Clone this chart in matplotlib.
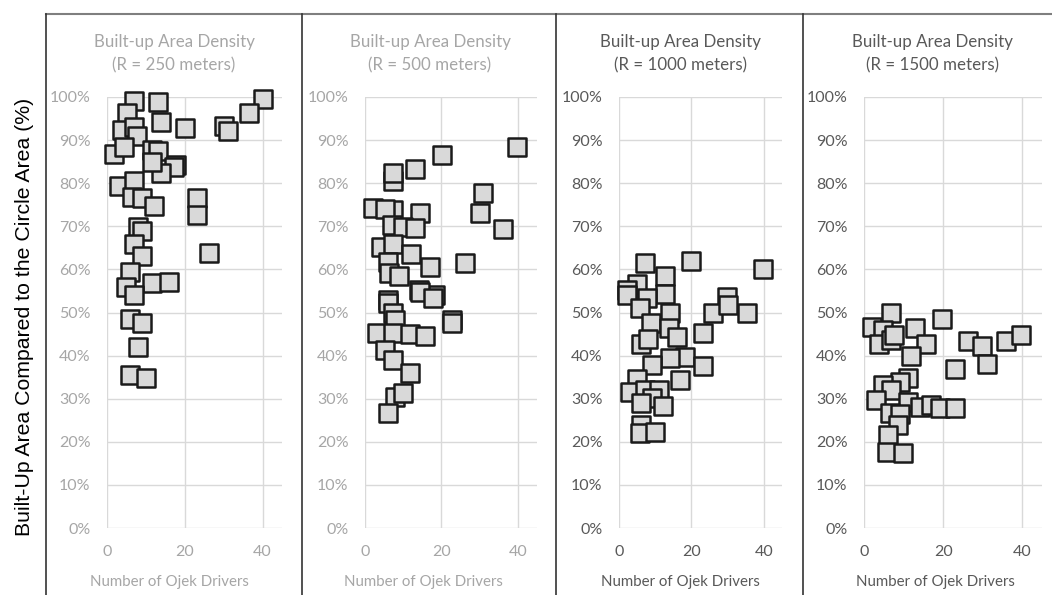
import matplotlib
matplotlib.use("Agg")
import matplotlib.pyplot as plt
from matplotlib.lines import Line2D
from matplotlib.ticker import PercentFormatter

# ojek drivers (x) vs built-up share in % (y), one pair of lists per radius
r250_x = [7, 13, 40, 5.2, 36.5, 13.8, 20, 30.2, 31.2, 3.9, 7, 7.8, 1.7, 4.3,
          11.6, 13.2, 17.7, 17.3, 13.8, 11.6, 3, 6.9, 6.3, 9, 12, 23.1, 23.1,
          8, 9, 6.9, 9, 26.1, 5.8, 4.9, 11.6, 15.9, 7, 6, 9, 8, 6, 10]
r250_y = [99, 98.8, 99.5, 96.4, 96.3, 94.3, 92.9, 93.3, 92, 92.4, 93, 90.9,
          86.7, 88.5, 87.8, 87.4, 84.3, 83.8, 82.3, 85, 79.4, 80.4, 76.9, 76.5,
          74.7, 76.5, 72.6, 69.8, 69, 66, 63.1, 63.9, 59.5, 56, 56.9, 57.1, 54,
          48.5, 47.5, 42, 35.5, 34.8]

r500_x = [39.8, 20.1, 13.1, 7.3, 7.3, 30.9, 30.2, 36.1, 2.2, 7.4, 5.2, 14.3,
          7, 10, 13.1, 4.1, 7.3, 12, 17.1, 26.1, 6.1, 6.3, 9, 14, 18.4, 6.1,
          14.4, 17.9, 6.1, 7.3, 7.9, 22.7, 22.7, 3.1, 7.3, 11.8, 15.7, 5.2,
          7.3, 11.8, 7.9, 9.9, 6.1]
r500_y = [88.5, 86.6, 83.3, 80.4, 82.3, 77.8, 73.2, 69.3, 74.2, 73.8, 74,
          73.2, 70.3, 69.9, 69.5, 65.1, 65.9, 63.6, 60.6, 61.6, 61.8, 59.2,
          58.4, 55.2, 54, 52.9, 54.8, 53.3, 52.1, 49.8, 48.3, 48.3, 47.5, 45.2,
          45.2, 44.9, 44.5, 41.3, 39, 36, 30.5, 31.3, 26.6]

r1000_x = [7.1, 20, 39.7, 12.8, 5, 2.3, 12.8, 29.8, 2.3, 7.8, 5.8, 26, 30.2,
           35.2, 14.2, 8.9, 13.8, 23.1, 6, 8, 15.9, 18.3, 14, 9.2, 23.1, 16.8,
           5, 3, 7.1, 11, 9.2, 6, 12.2, 6, 5.8, 9.9]
r1000_y = [61.6, 62, 60, 58.4, 56.7, 55.2, 54.4, 53.6, 54, 53.3, 51, 50,
           51.7, 49.8, 49.8, 47.6, 46.3, 45.3, 42.8, 43.8, 44.2, 39.7, 39.4,
           37.8, 37.6, 34.3, 34.5, 31.6, 32, 32, 30.1, 28.9, 28.3, 23.9, 22.1,
           22.3]

r1500_x = [6.8, 19.6, 1.9, 4.8, 12.8, 3.9, 6.9, 15.8, 7.6, 11.8, 26.2, 29.9,
           36, 39.8, 31, 23.1, 11.1, 9, 4.8, 6.9, 3.1, 11.1, 14.1, 17, 19.1,
           22.9, 6.5, 9, 8.6, 6.1, 5.9, 9.9]
r1500_y = [49.8, 48.6, 46.6, 45.9, 46.3, 42.8, 43.6, 42.8, 44.8, 39.9, 43.5,
           42.2, 43.5, 44.8, 38, 37, 34.7, 33.9, 33.2, 32, 29.7, 29.3, 28.1,
           28.5, 27.8, 27.8, 26.6, 26.4, 23.9, 21.6, 17.7, 17.3]

radii = ["250", "500", "1000", "1500"]
series = [(r250_x, r250_y), (r500_x, r500_y), (r1000_x, r1000_y), (r1500_x, r1500_y)]
text_colors = ["#a6a6a6", "#a6a6a6", "#595959", "#595959"]

W, H = 1052, 595
fig = plt.figure(figsize=(W / 100, H / 100), dpi=100)
plt.rcParams["font.family"] = ["Lato", "DejaVu Sans"]

# plot-area pixel boxes: left, right; title and x-label centres
lefts = [107, 365, 619, 864]
rights = [282, 537, 782, 1042]
title_cx = [174, 430, 680, 932]
xlabel_cx = [169, 423, 680, 935]
top_px, bottom_px = 97, 528

for i, (xs, ys) in enumerate(series):
    l, r = lefts[i], rights[i]
    ax = fig.add_axes([l / W, (H - bottom_px) / H, (r - l) / W, (bottom_px - top_px) / H])
    ax.scatter(xs, [v / 100 for v in ys], marker="s", s=175, facecolor="#d9d9d9",
               edgecolor="#1a1a1a", linewidths=1.8, zorder=3, clip_on=False)
    ax.set_xlim(0, 45)
    ax.set_ylim(0, 1)
    ax.set_xticks([0, 20, 40])
    ax.set_yticks([k / 10 for k in range(11)])
    ax.yaxis.set_major_formatter(PercentFormatter(1.0, decimals=0))
    ax.grid(True, color="#d9d9d9", linewidth=1)
    ax.set_axisbelow(True)
    for sp in ax.spines.values():
        sp.set_visible(False)
    ax.tick_params(length=0, labelsize=11.5, colors=text_colors[i], pad=12)
    fig.text(title_cx[i] / W, 1 - 54 / H, "Built-up Area Density\n(R = %s meters)" % radii[i],
             ha="center", va="center", fontsize=12.2, color=text_colors[i], linespacing=1.55)
    fig.text(xlabel_cx[i] / W, 1 - 582 / H, "Number of Ojek Drivers",
             ha="center", va="center", fontsize=10.8, color=text_colors[i])

fig.text(25 / W, 1 - 317 / H, "Built-Up Area Compared to the Circle Area (%)",
         rotation=90, ha="center", va="center", fontsize=15.3, color="black",
         family=["Liberation Sans", "DejaVu Sans"])

# table-like frame around the panels
fig.add_artist(Line2D([46 / W, 1051 / W], [1 - 14 / H, 1 - 14 / H], color="#7f7f7f", lw=1.5))
for xp in [46, 302, 556, 803]:
    fig.add_artist(Line2D([xp / W, xp / W], [0, 1 - 14 / H], color="#333333", lw=1.2))

fig.savefig("out.png", dpi=100)
